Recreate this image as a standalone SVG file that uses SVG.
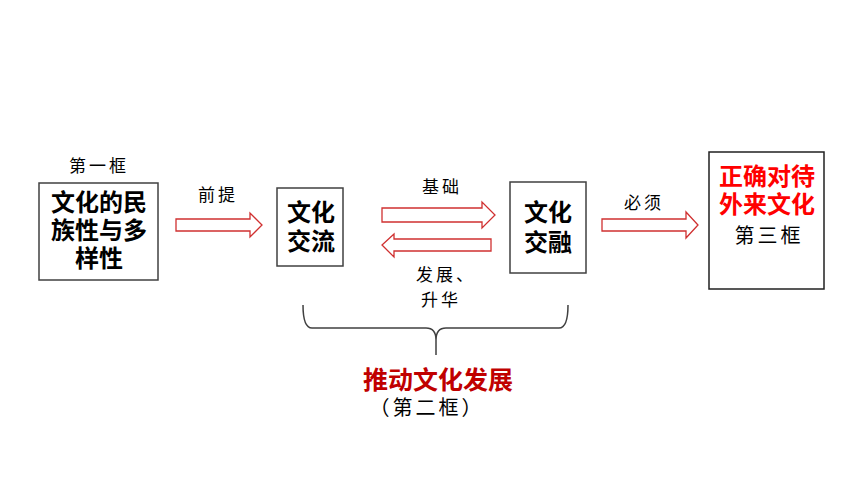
<svg xmlns="http://www.w3.org/2000/svg" width="860" height="484" viewBox="0 0 860 484">
<style>
.box{fill:#fff;stroke:#404040;stroke-width:1.5}
.t{font-family:"Noto Sans CJK SC","Noto Sans",sans-serif;text-anchor:middle}
.b{font-weight:bold;font-size:24px;fill:#000}
.l{font-size:17px;fill:#000;letter-spacing:3px}
.arr{fill:#fff;stroke:#D03030;stroke-width:1.3}
</style>
<rect width="860" height="484" fill="#fff"/>
<g id="connectors">
<polygon class="arr" points="176,219 250,219 250,213 262,225 250,237 250,231 176,231"/>
<polygon class="arr" points="382,208 482,208 482,202 495,215 482,228 482,222 382,222"/>
<polygon class="arr" points="491,239 394,239 394,234 382,245 394,257 394,251 491,251"/>
<polygon class="arr" points="602,219 686,219 686,212 698,225 686,238 686,231 602,231"/>
<path d="M303,305 Q303,328 312,328 L426,328 Q436,328 436,340 L436,355 M436,340 Q436,328 446,328 L559,328 Q568,328 568,305" fill="none" stroke="#404040" stroke-width="1.5"/>
</g>
<g id="n1">
<text class="t l" x="99" y="172">第一框</text>
<rect class="box" x="39" y="183" width="119" height="97"/>
<text class="t b" x="99" y="211">文化的民</text>
<text class="t b" x="99" y="239">族性与多</text>
<text class="t b" x="99" y="267">样性</text>
</g>
<g id="lbl1"><text class="t l" x="218" y="201">前提</text></g>
<g id="n2">
<rect class="box" x="277" y="188" width="66" height="78"/>
<text class="t b" x="311" y="221">文化</text>
<text class="t b" x="311" y="250">交流</text>
</g>
<g id="lbl2"><text class="t l" x="442" y="193">基础</text></g>
<g id="lbl3">
<text class="t l" x="446" y="281">发展、</text>
<text class="t l" x="441" y="306">升华</text>
</g>
<g id="n3">
<rect class="box" x="510" y="182" width="76" height="91"/>
<text class="t b" x="548" y="221">文化</text>
<text class="t b" x="548" y="251">交融</text>
</g>
<g id="lbl4"><text class="t l" x="644" y="209">必须</text></g>
<g id="n4">
<rect class="box" x="709" y="152" width="115" height="137" style="stroke:#202020"/>
<text class="t b" x="767" y="185" style="fill:#FF0000">正确对待</text>
<text class="t b" x="767" y="213" style="fill:#FF0000">外来文化</text>
<text class="t" x="769" y="243" style="font-size:20px;letter-spacing:3px">第三框</text>
</g>
<g id="n5">
<text class="t b" x="438" y="389" style="fill:#C00000;font-size:25px">推动文化发展</text>
<text class="t" x="427" y="415" style="font-size:20px;letter-spacing:3px">（第二框）</text>
</g>
</svg>
